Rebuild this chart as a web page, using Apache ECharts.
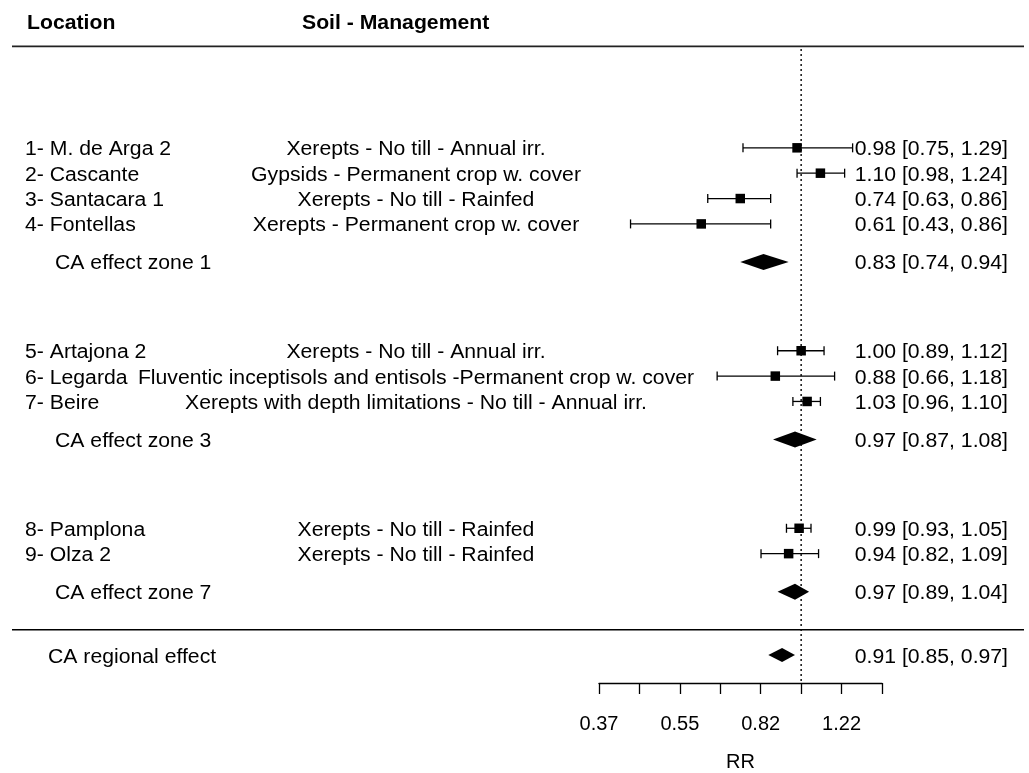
<!DOCTYPE html>
<html>
<head>
<meta charset="utf-8">
<script src="https://cdn.jsdelivr.net/npm/echarts@6/dist/echarts.min.js"></script>
<style>html,body{margin:0;padding:0;background:#fff}#c{width:1029px;height:773px}</style>
</head>
<body>
<div id="c"></div>
<script>
// ---- data ----
const studyLocation = ["1- M. de Arga 2","2- Cascante","3- Santacara 1","4- Fontellas","5- Artajona 2","6- Legarda","7- Beire","8- Pamplona","9- Olza 2"];
const studySoil = ["Xerepts - No till - Annual irr.","Gypsids - Permanent crop w. cover","Xerepts - No till - Rainfed","Xerepts - Permanent crop w. cover","Xerepts - No till - Annual irr.","Fluventic inceptisols and entisols -Permanent crop w. cover","Xerepts with depth limitations - No till - Annual irr.","Xerepts - No till - Rainfed","Xerepts - No till - Rainfed"];
const studyRR = [0.98,1.10,0.74,0.61,1.00,0.88,1.03,0.99,0.94];
const studyLow = [0.75,0.98,0.63,0.43,0.89,0.66,0.96,0.93,0.82];
const studyHigh = [1.29,1.24,0.86,0.86,1.12,1.18,1.10,1.05,1.09];
const studyRows = [20,19,18,17,12,11,10,5,4];

const summaryLabel = ["CA effect zone 1","CA effect zone 3","CA effect zone 7","CA regional effect"];
const summaryRR = [0.83,0.97,0.97,0.91];
const summaryLow = [0.74,0.87,0.89,0.85];
const summaryHigh = [0.94,1.08,1.04,0.97];
const summaryRows = [15.5,8.5,2.5,0];

const headers = ["Location","Soil - Management"];
const axisTitle = "RR";
const labeledTicks = [-1,-0.6,-0.2,0.2]; // ln(RR) positions with labels

// ---- layout/style ----
const FONT = "'Liberation Sans', Arial, sans-serif";
const FS = 20, SX = 1.06, DY = 2;
const fmt = v => v.toFixed(2);
const ciText = (e,l,h) => fmt(e) + " [" + fmt(l) + ", " + fmt(h) + "]";

const chart = echarts.init(document.getElementById('c'), null, {renderer:'canvas'});

function txt(x, y, s, align, bold) {
  return {type:'text', x:x, y:y + DY, scaleX:SX, style:{text:s, fontSize:FS, fontFamily:FONT, fontWeight:bold?'bold':'normal', fill:'#000', align:align, verticalAlign:'middle'}};
}

const studyData = studyRR.map((v,i)=>[Math.log(v), Math.log(studyLow[i]), Math.log(studyHigh[i]), studyRows[i], i]);
const summaryData = summaryRR.map((v,i)=>[Math.log(v), Math.log(summaryLow[i]), Math.log(summaryHigh[i]), summaryRows[i], i]);

const option = {
  animation:false,
  backgroundColor:'#fff',
  grid:{left:599, right:147, top:21, bottom:90, outerBoundsMode:'none', containLabel:false},
  xAxis:{
    type:'value', min:-1, max:0.4, interval:0.2,
    axisLine:{show:true, onZero:false, lineStyle:{color:'#000', width:1.3}},
    axisTick:{show:true, length:11, lineStyle:{color:'#000', width:1.3}},
    splitLine:{show:false},
    axisLabel:{
      margin:31, fontSize:FS, fontFamily:FONT, color:'#000',
      formatter:function(v){ return labeledTicks.some(t=>Math.abs(t-v)<1e-6) ? Math.exp(v).toFixed(2) : ''; }
    },
    name:axisTitle, nameLocation:'middle', nameGap:69,
    nameTextStyle:{fontSize:FS, fontFamily:FONT, color:'#000'}
  },
  yAxis:{type:'value', min:-1.1, max:25, show:false},
  series:[
    {
      type:'custom', name:'decor', clip:false, silent:true,
      data:[[0]], encode:{x:0},
      renderItem:function(params, api){
        const top = api.coord([0,23.9]), bot = api.coord([0,-1.1]);
        const hl = api.coord([0,24])[1], sep = api.coord([0,1])[1], hd = api.coord([0,25])[1];
        return {type:'group', children:[
          {type:'line', shape:{x1:top[0], y1:top[1], x2:bot[0], y2:bot[1]}, style:{stroke:'#000', lineWidth:1.4, lineDash:[2,3]}},
          {type:'line', shape:{x1:12, y1:hl, x2:1024, y2:hl}, style:{stroke:'#222', lineWidth:1.8}},
          {type:'line', shape:{x1:12, y1:sep, x2:1024, y2:sep}, style:{stroke:'#000', lineWidth:1.4}},
          txt(27, hd, headers[0], 'left', true),
          txt(302, hd, headers[1], 'left', true)
        ]};
      }
    },
    {
      type:'custom', name:'studies', clip:false,
      data:studyData, encode:{x:[0,1,2], y:3},
      renderItem:function(params, api){
        const i = api.value(4), r = api.value(3);
        const e = api.coord([api.value(0), r]);
        const lo = api.coord([api.value(1), r]);
        const hi = api.coord([api.value(2), r]);
        const y = e[1], s = 9.5, c = 4.5;
        return {type:'group', children:[
          {type:'line', shape:{x1:lo[0], y1:y, x2:hi[0], y2:y}, style:{stroke:'#000', lineWidth:1.3}},
          {type:'line', shape:{x1:lo[0], y1:y-c, x2:lo[0], y2:y+c}, style:{stroke:'#000', lineWidth:1.3}},
          {type:'line', shape:{x1:hi[0], y1:y-c, x2:hi[0], y2:y+c}, style:{stroke:'#000', lineWidth:1.3}},
          {type:'rect', shape:{x:e[0]-s/2, y:y-s/2, width:s, height:s}, style:{fill:'#000'}},
          txt(25, y, studyLocation[i], 'left'),
          txt(416, y, studySoil[i], 'center'),
          txt(1008, y, ciText(studyRR[i], studyLow[i], studyHigh[i]), 'right')
        ]};
      }
    },
    {
      type:'custom', name:'summaries', clip:false,
      data:summaryData, encode:{x:[0,1,2], y:3},
      renderItem:function(params, api){
        const i = api.value(4), r = api.value(3);
        const e = api.coord([api.value(0), r]);
        const lo = api.coord([api.value(1), r]);
        const hi = api.coord([api.value(2), r]);
        const y = e[1], h = (i === 3) ? 7 : 8;
        const lx = (i === 3) ? 48 : 55;
        return {type:'group', children:[
          {type:'polygon', shape:{points:[[lo[0],y],[e[0],y-h],[hi[0],y],[e[0],y+h]]}, style:{fill:'#000'}},
          txt(lx, y, summaryLabel[i], 'left'),
          txt(1008, y, ciText(summaryRR[i], summaryLow[i], summaryHigh[i]), 'right')
        ]};
      }
    }
  ]
};
chart.setOption(option);
</script>
</body>
</html>
